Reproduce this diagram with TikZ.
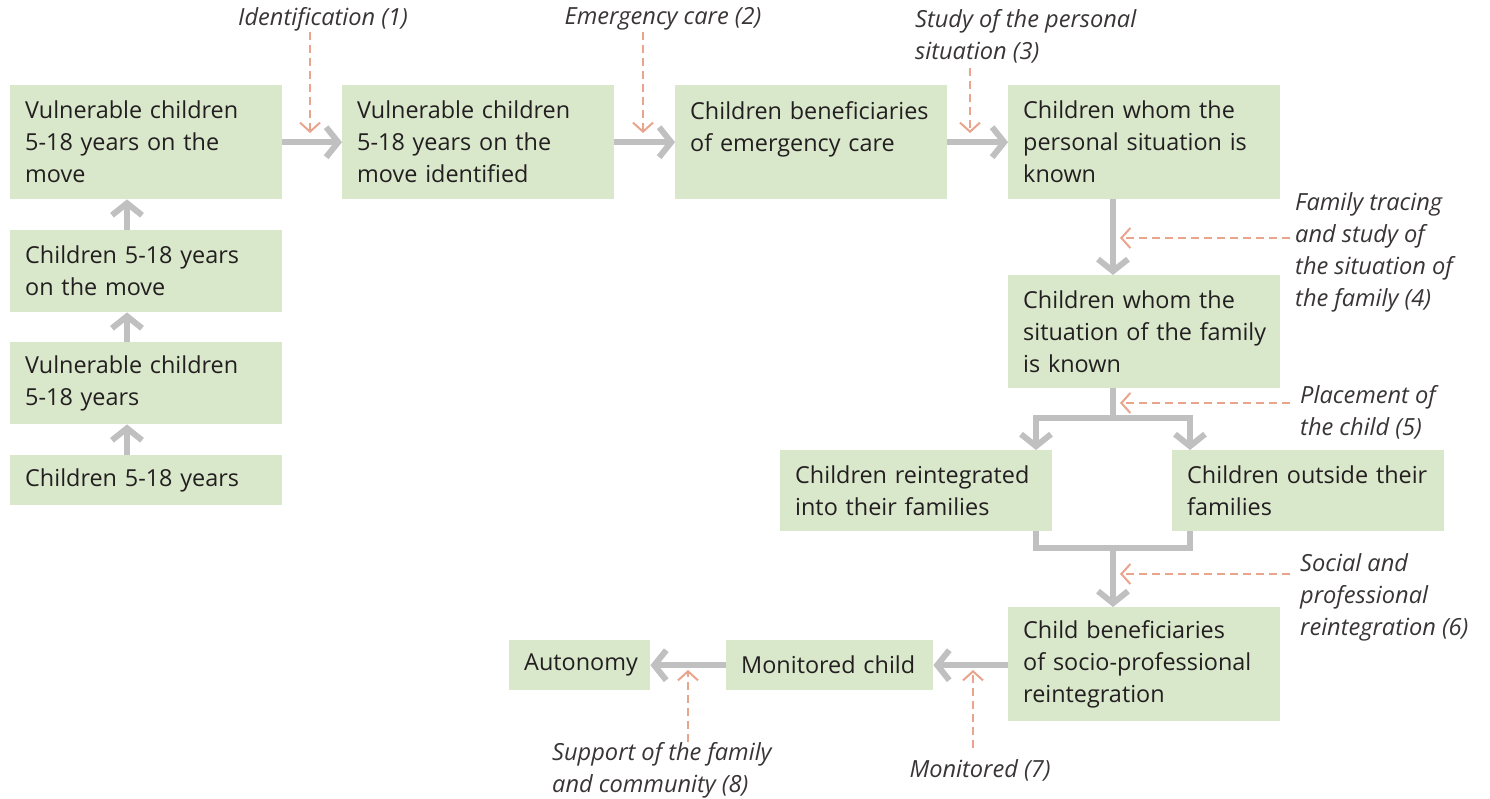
\documentclass[tikz,border=0pt]{standalone}
\usepackage{fontspec}
\setmainfont{Open Sans}
\usetikzlibrary{arrows.meta}
\definecolor{boxfill}{HTML}{D9E7CB}
\definecolor{txt}{HTML}{231F20}
\definecolor{flow}{HTML}{C0C0C0}
\definecolor{act}{HTML}{E9A48D}
\begin{document}
\begin{tikzpicture}[x=1pt,y=-1pt,
  box/.style={fill=boxfill, text=txt, anchor=north west, align=left,
    inner xsep=15pt, inner ysep=0pt, font=\fontsize{23.4}{32}\selectfont,
    text width=#1},
  flowline/.style={draw=flow, line width=6pt},
  flowarrow/.style={flowline, -{Straight Barb[length=12pt,width=30pt,line width=6pt]}},
  actarrow/.style={draw=act, line width=2pt, dash pattern=on 8pt off 5pt,
    -{Straight Barb[length=9pt,width=20pt,line width=2pt]}},
  lbl/.style={text=txt!90, inner sep=0pt, align=left,
    font=\fontsize{23.6}{32}\selectfont\itshape}
]
\useasboundingbox (0,0) rectangle (1490,799);

% boxes
\node[box=242, minimum height=114] (b1) at (10,85) {Vulnerable children\\5-18 years on the\\move};
\node[box=242, minimum height=82] (b2) at (10,230) {Children 5-18 years\\on the move};
\node[box=242, minimum height=82] (b3) at (10,342) {Vulnerable children\\5-18 years};
\node[box=242, minimum height=50] (b4) at (10,455) {Children 5-18 years};
\node[box=242, minimum height=114] (b5) at (342,85) {Vulnerable children\\5-18 years on the\\move identified};
\node[box=242, minimum height=114] (b6) at (675,85) {\mbox{Children beneficiaries}\\of emergency care\\\mbox{}};
\node[box=242, minimum height=114] (b7) at (1008,85) {Children whom the\\\mbox{personal situation is}\\known};
\node[box=242, minimum height=113] (b8) at (1008,275) {Children whom the\\\mbox{situation of the family}\\is known};
\node[box=242, minimum height=81] (b9) at (780,450) {\mbox{Children reintegrated}\\into their families};
\node[box=242, minimum height=81] (b10) at (1172,450) {\mbox{Children outside their}\\families};
\node[box=242, minimum height=114] (b11) at (1008,607) {Child beneficiaries\\\mbox{of socio-professional}\\reintegration};
\node[box=177, minimum height=50] (b12) at (726,640) {Monitored child};
\node[box=111, minimum height=50] (b13) at (509,640) {Autonomy};

% left column
\coordinate (lc) at (127,0);
\draw[flowarrow] (b4.north -| lc) -- (b3.south -| lc);
\draw[flowarrow] (b3.north -| lc) -- (b2.south -| lc);
\draw[flowarrow] (b2.north -| lc) -- (b1.south -| lc);

% top row
\draw[flowarrow] (b1.east) -- (b5.west);
\draw[flowarrow] (b5.east) -- (b6.west);
\draw[flowarrow] (b6.east) -- (b7.west);

% right column
\coordinate (rc) at (1113,0);
\draw[flowarrow] (b7.south -| rc) -- (b8.north -| rc);
\coordinate (sp) at (1113,418);
\coordinate (spL) at (1036,418);
\coordinate (spR) at (1190,418);
\draw[flowline] (b8.south -| rc) -- (sp);
\draw[flowarrow] (sp) -| (b9.north -| spL);
\draw[flowarrow] (sp) -| (b10.north -| spR);
\coordinate (mL) at (1036,548);
\coordinate (mR) at (1190,548);
\coordinate (mg) at (1113,548);
\draw[flowline] (b9.south -| mL) |- (mR) -- (b10.south -| mR);
\draw[flowarrow] (mg) -- (b11.north -| mg);

% bottom row
\draw[flowarrow] (b11.west |- b12.east) -- (b12.east);
\draw[flowarrow] (b12.west) -- (b13.east);

% labels
\node[lbl, anchor=center] (l1) at (323,19) {Identification (1)};
\node[lbl, anchor=center] (l2) at (663,19) {Emergency care (2)};
\node[lbl, anchor=west] (l3) at (915,36) {Study of the personal\\situation (3)};
\node[lbl, anchor=west] (l4) at (1295,252) {Family tracing\\and study of\\the situation of\\the family (4)};
\node[lbl, anchor=west] (l5) at (1300,412) {Placement of\\the child (5)};
\node[lbl, anchor=west] (l6) at (1300,597) {Social and\\professional\\reintegration (6)};
\node[lbl, anchor=center] (l7) at (980,770) {Monitored (7)};
\node[lbl, anchor=west] (l8) at (552,770) {Support of the family\\and community (8)};

% activity arrows
\coordinate (a1s) at (310,32);  \coordinate (a1e) at (310,133);
\coordinate (a2s) at (643,32);  \coordinate (a2e) at (643,133);
\coordinate (a3s) at (970,68);  \coordinate (a3e) at (970,133);
\coordinate (a4s) at (1290,238); \coordinate (a4e) at (1120,238);
\coordinate (a5s) at (1290,403); \coordinate (a5e) at (1120,403);
\coordinate (a6s) at (1290,574); \coordinate (a6e) at (1120,574);
\coordinate (a7s) at (973,748); \coordinate (a7e) at (973,670);
\coordinate (a8s) at (688,742); \coordinate (a8e) at (688,670);
\draw[actarrow] (a1s) -- (a1e);
\draw[actarrow] (a2s) -- (a2e);
\draw[actarrow] (a3s) -- (a3e);
\draw[actarrow] (a4s) -- (a4e);
\draw[actarrow] (a5s) -- (a5e);
\draw[actarrow] (a6s) -- (a6e);
\draw[actarrow] (a7s) -- (a7e);
\draw[actarrow] (a8s) -- (a8e);
\end{tikzpicture}
\end{document}
